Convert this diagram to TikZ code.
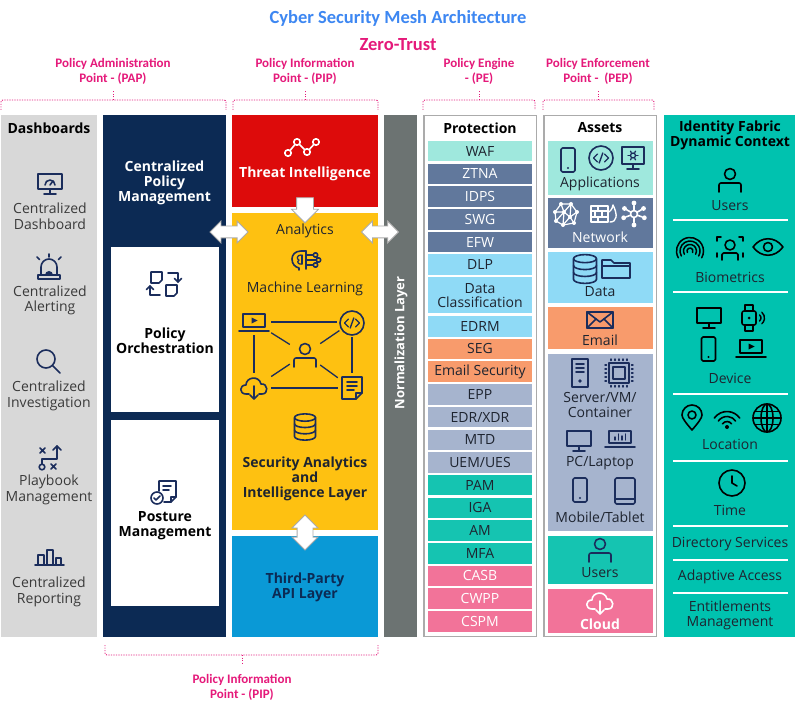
\documentclass[tikz,border=0pt]{standalone}
\usepackage{fontspec}
\setmainfont{Open Sans}
\newfontfamily\lblfont{Carlito}
\usetikzlibrary{shapes.arrows,calc}
\definecolor{navyc}{HTML}{0C2A54}
\definecolor{dashg}{HTML}{D8D8D8}
\definecolor{redc}{HTML}{DD0B0B}
\definecolor{yelc}{HTML}{FEC111}
\definecolor{bluec}{HTML}{0A99D6}
\definecolor{normg}{HTML}{6C7372}
\definecolor{bordg}{HTML}{ABABAB}
\definecolor{mintc}{HTML}{9FE8DD}
\definecolor{slatec}{HTML}{61789C}
\definecolor{lbluec}{HTML}{8FDAF6}
\definecolor{orangec}{HTML}{F89B6C}
\definecolor{lslatec}{HTML}{A6B4CE}
\definecolor{tealc}{HTML}{15C4B1}
\definecolor{pinkc}{HTML}{F27399}
\definecolor{idteal}{HTML}{00C2AF}
\definecolor{iconc}{HTML}{1B2D5C}
\definecolor{pinklbl}{HTML}{E5197A}
\definecolor{titleb}{HTML}{3D87F2}
\definecolor{txtc}{HTML}{1E2430}
\definecolor{dtxt}{HTML}{3A3A3A}
\tikzset{
  ic/.style={line width=1.6pt, line cap=round, line join=round},
  colbox/.style={inner sep=0pt, outer sep=0pt, draw=none},
  txt/.style={inner sep=0pt, align=center, font=\fontsize{14}{15.5}\selectfont, text=txtc},
  btxt/.style={inner sep=0pt, align=center, font=\fontsize{14}{15.2}\selectfont\bfseries, text=txtc},
  lbl/.style={inner sep=0pt, align=center, text=pinklbl, font=\lblfont\fontsize{13}{15}\selectfont\bfseries},
  brk/.style={draw=pinklbl, line width=0.9pt, dash pattern=on 1.2pt off 1.3pt},
  pitem/.style={inner sep=0pt, outer sep=0pt, minimum width=104pt, minimum height=20.5pt, font=\fontsize{14}{15}\selectfont, text=txtc},
  aitem/.style={inner sep=0pt, outer sep=0pt, minimum width=105pt},
  sepl/.style={draw=white, line width=2pt},
  blk/.style={draw=bordg, fill=white, line width=0.8pt},
  netl/.style={draw=iconc, line width=1.3pt},
  pics/dashmon/.style={code={
    \draw[ic] (-12,-10) rectangle (12,5);
    \draw[ic] (0,5) -- (0,10) (-6,10) -- (6,10);
    \draw[ic] (-5,1) arc[start angle=180,end angle=360,radius=5];
    \draw[ic] (0,1) -- (3,-3);
  }},
  pics/monitor/.style={code={
    \draw[ic] (-12,-10) rectangle (12,5);
    \draw[ic] (0,5) -- (0,10) (-6,10) -- (6,10);
  }},
  pics/gearmon/.style={code={
    \draw[ic] (-11,-10) rectangle (11,7);
    \draw[ic] (0,7) -- (0,12) (-6,12) -- (6,12);
    \draw[ic,line width=1.3pt] (0,-1.5) circle (2.5);
    \foreach \a in {0,60,...,300} \draw[ic,line width=1.3pt] ($(0,-1.5)+(\a:3.5)$) -- ($(0,-1.5)+(\a:5)$);
  }},
  pics/alarm/.style={code={
    \draw[ic] (-8,8) -- (-8,0) arc[start angle=180,end angle=360,radius=8] -- (8,8);
    \draw[ic] (-11,8) rectangle (11,12);
    \fill (-4,8) arc[start angle=180,end angle=360,radius=4] -- cycle;
    \draw[ic] (0,-13) -- (0,-10) (-12,-10) -- (-9.5,-7.5) (12,-10) -- (9.5,-7.5);
  }},
  pics/magnifier/.style={code={
    \draw[ic] (-3,-3) circle (9);
    \draw[ic] (3.5,3.5) -- (11,11);
  }},
  pics/playbook/.style={code={
    \draw[ic] (-7,10) circle (2.8);
    \draw[ic] (-7,7.2) -- (-7,2) -- (8,2) -- (8,-11);
    \draw[ic] (4,-7) -- (8,-11) -- (12,-7);
    \draw[ic,line width=1.5pt] (-9,-9) -- (-4,-4) (-9,-4) -- (-4,-9);
    \draw[ic,line width=1.5pt] (2,7) -- (7,12) (2,12) -- (7,7);
  }},
  pics/barchart/.style={code={
    \draw[ic] (-14,7) -- (15,7);
    \draw[ic] (-11,7) -- (-11,-3) -- (-5,-3) -- (-5,7);
    \draw[ic] (-2,7) -- (-2,-8) -- (4,-8) -- (4,7);
    \draw[ic] (7,7) -- (7,0) -- (12,0) -- (12,7);
  }},
  pics/icorch/.style={code={
    \draw[ic] (-13,-12) -- (-2,-12) -- (-2,-4) -- (-5,-1) -- (-13,-1) -- cycle;
    \draw[ic] (4,-11) -- (14,-11) -- (14,-2);
    \draw[ic] (10.5,-5.5) -- (14,-2) -- (17.5,-5.5);
    \draw[ic] (-4,11) -- (-14,11) -- (-14,2);
    \draw[ic] (-17.5,5.5) -- (-14,2) -- (-10.5,5.5);
    \draw[ic] (2,1) -- (13,1) -- (13,9) -- (10,12) -- (2,12) -- cycle;
  }},
  pics/icpost/.style={code={
    \draw[ic] (-4,-1) -- (-4,-11) -- (13,-11) -- (13,5) -- (8,10) -- (1,10);
    \draw[ic] (13,5) -- (8,5) -- (8,10);
    \draw[ic] (0,-6) -- (8,-6) (0,-2) -- (6,-2);
    \draw[ic] (-6,6) circle (6);
    \draw[ic] (-9,6) -- (-7,8) -- (-3,4);
  }},
  pics/icthreat/.style={code={
    \draw[ic,white] (-14,6) -- (-5,-5) -- (5,5) -- (14,-5);
    \foreach \x/\y in {-14/6,-5/-5,5/5,14/-5} \filldraw[ic,draw=white,fill=redc] (\x,\y) circle (3.2);
  }},
  pics/brain/.style={code={
    \draw[ic] (1,-9) -- (-4,-9) .. controls (-10,-9) and (-13,-5) .. (-13,-1) .. controls (-13,4) and (-10,7) .. (-6,8) -- (-6,10);
    \draw[ic] (1,-9) -- (1,9);
    \draw[ic,line width=1.3pt] (-4,-5) .. controls (-8,-5) and (-9,-1) .. (-6,0) .. controls (-9,2) and (-6,5) .. (-3,4);
    \draw[ic,line width=1.3pt] (-3,-5) -- (-3,4);
    \draw[ic] (1,-5) -- (8,-5) (1,0) -- (11,0) (1,5) -- (8,5);
    \draw[ic] (10.5,-5) circle (2.2) (13.5,0) circle (2.2) (10.5,5) circle (2.2);
  }},
  pics/laptop/.style={code={
    \draw[ic] (-11,-8) rectangle (11,5);
    \draw[ic] (-15,9) -- (15,9);
    \fill (-2.5,-4.5) -- (3.5,-1.5) -- (-2.5,1.5) -- cycle;
  }},
  pics/codec/.style={code={
    \draw[ic] (0,0) circle (12);
    \draw[ic,line width=1.4pt] (-3.5,-4) -- (-7.5,0) -- (-3.5,4) (3.5,-4) -- (7.5,0) -- (3.5,4) (1.8,-5) -- (-1.8,5);
  }},
  pics/user/.style={code={
    \draw[ic] (0,-6) circle (5.5);
    \draw[ic,rounded corners=2pt] (-11,12) -- (-11,3) -- (11,3) -- (11,12);
  }},
  pics/cloudd/.style={code={
    \draw[ic] (-5,6) -- (-8,6) .. controls (-15,6) and (-15,-3) .. (-8,-3) .. controls (-8,-11) and (5,-13) .. (7,-4) .. controls (14,-5) and (15,6) .. (8,6) -- (5,6);
    \draw[ic] (0,-2) -- (0,11) (-4,7) -- (0,11) -- (4,7);
  }},
  pics/doc/.style={code={
    \draw[ic] (-10,-11) -- (10,-11) -- (10,5) -- (4,11) -- (-10,11) -- cycle;
    \draw[ic] (10,5) -- (4,5) -- (4,11);
    \draw[ic] (-5,-6) -- (5,-6) (-5,-2) -- (5,-2) (-5,2) -- (2,2);
  }},
  pics/database/.style={code={
    \draw[ic] (0,-9) ellipse [x radius=10, y radius=3.5];
    \draw[ic] (-10,-9) -- (-10,9) arc[start angle=180,end angle=0,x radius=10,y radius=3.5] -- (10,-9);
    \draw[ic] (-10,-3) arc[start angle=180,end angle=0,x radius=10,y radius=3.5];
    \draw[ic] (-10,3) arc[start angle=180,end angle=0,x radius=10,y radius=3.5];
  }},
  pics/folder/.style={code={
    \draw[ic] (-14,9) -- (-14,-9) -- (-5,-9) -- (-2,-6) -- (14,-6) -- (14,9) -- cycle;
    \draw[ic] (-14,-3) -- (14,-3);
  }},
  pics/envelope/.style={code={
    \draw[ic] (-13,-8) rectangle (13,8);
    \draw[ic] (-13,-8) -- (0,2) -- (13,-8);
    \draw[ic] (-13,8) -- (-4,-1) (13,8) -- (4,-1);
  }},
  pics/server/.style={code={
    \draw[ic] (-8,-14) rectangle (8,14);
    \draw[ic] (-4,-9) -- (4,-9) (-4,-5) -- (4,-5) (-4,-1) -- (4,-1);
    \fill (0,8) circle (1.8);
  }},
  pics/chip/.style={code={
    \draw[ic] (-10,-10) rectangle (10,10);
    \draw[ic] (-6,-6) rectangle (6,6);
    \foreach \t in {-8,-4,0,4,8} {
      \draw[ic,line width=1.4pt] (\t,-14) -- (\t,-12.5) (\t,12.5) -- (\t,14) (-14,\t) -- (-12.5,\t) (12.5,\t) -- (14,\t);
    }
  }},
  pics/lapchart/.style={code={
    \draw[ic] (-11,-8) rectangle (11,4);
    \draw[ic] (-15,8) -- (15,8);
    \draw[ic,line width=1.4pt] (-5,1) -- (-5,-2) (-1.5,1) -- (-1.5,-5) (2,1) -- (2,-3) (5.5,1) -- (5.5,-5);
  }},
  pics/phone/.style={code={
    \draw[ic,rounded corners=1.5pt] (-7,-12) rectangle (7,12);
    \fill (0,8) circle (1.2);
  }},
  pics/tablet/.style={code={
    \draw[ic,rounded corners=1.5pt] (-10,-13) rectangle (10,13);
    \draw[ic] (-10,8) -- (10,8);
  }},
  pics/meshnet/.style={code={
    \draw[ic,line width=1.2pt] (-11,-2) -- (-5,-10) -- (5,-10) -- (11,-2) -- (8,9) -- (-3,11) -- (-10,7) -- cycle;
    \draw[ic,line width=1.2pt] (-11,-2) -- (-2,-2) -- (-5,-10) (-2,-2) -- (5,-10) (-2,-2) -- (4,3) -- (11,-2) (4,3) -- (8,9) (4,3) -- (-3,11) (-2,-2) -- (-10,7) (-2,-2) -- (-3,11) (5,-10) -- (4,3);
    \foreach \x/\y in {-11/-2,-5/-10,5/-10,11/-2,8/9,-3/11,-10/7,-2/-2,4/3} \fill (\x,\y) circle (2);
  }},
  pics/firewall/.style={code={
    \draw[ic,line width=1.4pt] (-13,-8) rectangle (4,8);
    \draw[ic,line width=1.4pt] (-13,-3) -- (4,-3) (-13,3) -- (4,3) (-6,-8) -- (-6,-3) (-9,-3) -- (-9,3) (-2,-3) -- (-2,3) (-6,3) -- (-6,8);
    \draw[ic,line width=1.4pt] (6,8) .. controls (13,8) and (14,1) .. (9,-9) .. controls (8,-4) and (6,-3) .. (5,-2);
  }},
  pics/hub/.style={code={
    \draw[ic] (0,0) circle (3.5);
    \foreach \a in {20,90,160,210,270,330} { \draw[ic] (\a:3.5) -- (\a:8.5); \fill (\a:11) circle (2.4); }
  }},
  pics/finger/.style={code={
    \foreach \r in {3,6.5,10,13.5} \draw[ic,line width=1.5pt] (0,2) ++(150:\r) arc[start angle=150,end angle=390,radius=\r];
  }},
  pics/facescan/.style={code={
    \draw[ic] (0,-3) circle (5);
    \draw[ic,rounded corners=1.5pt] (-8,12) -- (-8,5) -- (8,5) -- (8,12);
    \draw[ic] (-13,-7) -- (-13,-11) -- (-9,-11) (13,-7) -- (13,-11) -- (9,-11) (-13,5) -- (-13,9) (13,5) -- (13,9);
  }},
  pics/eye/.style={code={
    \draw[ic] (-15,0) .. controls (-7,-11) and (7,-11) .. (15,0) .. controls (7,11) and (-7,11) .. (-15,0) -- cycle;
    \draw[ic] (0,0) circle (4.5);
  }},
  pics/watch/.style={code={
    \draw[ic] (-4,-7) -- (-4,-13) -- (4,-13) -- (4,-7) (-4,7) -- (-4,13) -- (4,13) -- (4,7);
    \draw[ic,rounded corners=2pt] (-7,-7) rectangle (7,7);
    \fill (0,0) circle (1.5);
    \draw[ic,line width=1.4pt] (8,0) ++(-50:4) arc[start angle=-50,end angle=50,radius=4];
    \draw[ic,line width=1.4pt] (8,0) ++(-50:7.5) arc[start angle=-50,end angle=50,radius=7.5];
  }},
  pics/pin/.style={code={
    \draw[ic] (0,12) .. controls (-6,5) and (-10,0) .. (-10,-3) arc[start angle=180,end angle=360,radius=10] .. controls (10,0) and (6,5) .. (0,12) -- cycle;
    \draw[ic] (0,-3) circle (4);
  }},
  pics/wifi/.style={code={
    \foreach \r in {5.5,10.5,15.5} \draw[ic] (0,8) ++(215:\r) arc[start angle=215,end angle=325,radius=\r];
    \fill (0,8) circle (2);
  }},
  pics/globe/.style={code={
    \draw[ic] (0,0) circle (14);
    \draw[ic] (0,0) ellipse [x radius=6, y radius=14];
    \draw[ic] (0,-14) -- (0,14) (-14,0) -- (14,0) (-12.4,-6.5) -- (12.4,-6.5) (-12.4,6.5) -- (12.4,6.5);
  }},
  pics/clock/.style={code={
    \draw[ic] (0,0) circle (13);
    \draw[ic] (0,-7) -- (0,0) -- (5,3);
  }},
}
\newcommand\topbrk[3]{%
  \draw[brk, rounded corners=2pt] (#1,110) -- (#1,100) -- (#2,100) -- (#2,110);
  \draw[brk] (#3,100) -- (#3,91);}
\begin{document}
\begin{tikzpicture}[x=1pt,y=-1pt]
\useasboundingbox (0,0) rectangle (795,711);
\fill[white] (0,0) rectangle (795,711);

% titles
\node[inner sep=0pt, font=\lblfont\fontsize{18.5}{20}\selectfont\bfseries, text=titleb] (title) at (398,18) {Cyber Security Mesh Architecture};
\node[inner sep=0pt, font=\lblfont\fontsize{18.5}{20}\selectfont\bfseries, text=pinklbl] (zt) at (398,45) {Zero-Trust};

% labels and brackets
\node[lbl] (pap) at (113,71.5) {Policy Administration\\Point - (PAP)};
\node[lbl] (pip) at (305,71.5) {Policy Information\\Point - (PIP)};
\node[lbl] (pe) at (479,71.5) {Policy Engine\\- (PE)};
\node[lbl] (pep) at (598,71.5) {Policy Enforcement\\Point -~ (PEP)};
\topbrk{1}{226}{113}
\topbrk{233}{378}{305}
\topbrk{423}{535}{479}
\topbrk{543}{654}{598}
\draw[brk, rounded corners=2pt] (105,645) -- (105,655) -- (378,655) -- (378,645);
\draw[brk] (242,655) -- (242,664);
\node[lbl] (pipb) at (242,687) {Policy Information\\Point - (PIP)};

% columns
\node[colbox, fill=dashg, minimum width=96pt, minimum height=522pt] (dash) at (49,376) {};
\node[colbox, fill=navyc, minimum width=123pt, minimum height=522pt] (navy) at (164.5,376) {};
\node[colbox, fill=white, minimum width=108pt, minimum height=165pt] (orch) at (165,329.5) {};
\node[colbox, fill=white, minimum width=108pt, minimum height=186pt] (post) at (165,513) {};
\node[colbox, fill=redc, minimum width=146pt, minimum height=92pt] (threat) at (305,161) {};
\node[colbox, fill=yelc, minimum width=146pt, minimum height=317pt] (sail) at (305,371.5) {};
\node[colbox, fill=bluec, minimum width=146pt, minimum height=101pt] (api) at (305,586.5) {};
\node[colbox, fill=normg, minimum width=33pt, minimum height=522pt] (norm) at (400.5,376) {};
\node[colbox, fill=white, draw=bordg, line width=1.5pt, minimum width=112.5pt, minimum height=520.5pt] (prot) at (480,376) {};
\node[colbox, fill=white, draw=bordg, line width=1.5pt, minimum width=112.5pt, minimum height=520.5pt] (assets) at (600,376) {};
\node[colbox, fill=idteal, minimum width=131pt, minimum height=522pt] (ident) at (729.5,376) {};

% dashboards column
\node[btxt, text=black] (hdash) at (49,128) {Dashboards};
\pic[color=iconc] at (50,184) {dashmon};
\node[txt, text=dtxt] (cd) at (50,216.5) {Centralized\\Dashboard};
\pic[color=iconc] at (49,267) {alarm};
\node[txt, text=dtxt] (ca) at (50,300.5) {Centralized\\Alerting};
\pic[color=iconc] at (49,362) {magnifier};
\node[txt, text=dtxt] (ci) at (49,396) {Centralized\\Investigation};
\pic[color=iconc] at (49,457) {playbook};
\node[txt, text=dtxt] (pb) at (49,490) {Playbook\\Management};
\pic[color=iconc] at (49,558) {barchart};
\node[txt, text=dtxt] (cr) at (49,592) {Centralized\\Reporting};

% navy column
\node[btxt, text=white] (cpm) at (164.5,183) {Centralized\\Policy\\Management};
\pic[color=iconc] at (164,284) {icorch};
\node[btxt, text=black] (po) at (165,340.5) {Policy\\Orchestration};
\pic[color=iconc] at (163,492) {icpost};
\node[btxt, text=black] (pm) at (165,525.5) {Posture\\Management};

% threat / analytics / api
\pic at (302,147) {icthreat};
\node[btxt, text=white] (ti) at (305,174) {Threat Intelligence};
\node[txt] (an) at (305,231) {Analytics};
\pic[color=iconc] at (305,260) {brain};
\node[txt] (ml) at (305,289) {Machine Learning};
\node[minimum width=34pt, minimum height=26pt, inner sep=0pt] (nlap) at (254,322) {};
\node[circle, minimum size=30pt, inner sep=0pt] (ncode) at (352,322) {};
\node[minimum width=30pt, minimum height=30pt, inner sep=0pt] (nper) at (305,354) {};
\node[minimum width=34pt, minimum height=30pt, inner sep=0pt] (ncld) at (254,388) {};
\node[minimum width=28pt, minimum height=30pt, inner sep=0pt] (ndoc) at (352,388) {};
\draw[netl] (nlap) -- (ncode);
\draw[netl] (nlap) -- (ncld);
\draw[netl] (ncode) -- (ndoc);
\draw[netl] (ncld) -- (ndoc);
\draw[netl] (nper) -- (nlap);
\draw[netl] (nper) -- (ncode);
\draw[netl] (nper) -- (ncld);
\draw[netl] (nper) -- (ndoc);
\pic[color=iconc] at (254,322) {laptop};
\pic[color=iconc] at (352,323) {codec};
\pic[color=iconc] at (305,355) {user};
\pic[color=iconc] at (254,388) {cloudd};
\pic[color=iconc] at (352,388) {doc};
\pic[color=iconc, scale=1.05] at (305,427) {database};
\node[btxt] (sa) at (305,479) {Security Analytics\\and\\Intelligence Layer};
\node[btxt, text=navyc] (tp) at (305,587.5) {Third-Party\\API Layer};

% block arrows
\node[blk, single arrow, single arrow head extend=5pt, inner ysep=8pt, inner xsep=0pt, minimum height=25pt, rotate=-90] (darr) at (305,206) {};
\node[blk, double arrow, double arrow head extend=5pt, inner ysep=5.5pt, inner xsep=0pt, minimum height=38pt] (al) at (229,232) {};
\node[blk, double arrow, double arrow head extend=5pt, inner ysep=5.5pt, inner xsep=0pt, minimum height=37pt] (ar) at (380,232) {};
\node[blk, double arrow, double arrow head extend=5pt, inner ysep=7.5pt, inner xsep=0pt, minimum height=35pt, rotate=90] (av) at (305,532.5) {};

% normalization layer
\node[inner sep=0pt, rotate=90, text=white, font=\fontsize{13}{14}\selectfont\bfseries] (nl) at (401,343) {Normalization Layer};

% protection column
\node[btxt, text=black] (hprot) at (480,128) {Protection};
\node[pitem, fill=mintc] (waf) at (480,151.25) {WAF};
\node[pitem, fill=slatec, text=white] (ztna) at (480,173.95) {ZTNA};
\node[pitem, fill=slatec, text=white] (idps) at (480,196.65) {IDPS};
\node[pitem, fill=slatec, text=white] (swg) at (480,219.35) {SWG};
\node[pitem, fill=slatec, text=white] (efw) at (480,242.05) {EFW};
\node[pitem, fill=lbluec] (dlp) at (480,264.75) {DLP};
\node[pitem, fill=lbluec, minimum height=36pt, align=center, font=\fontsize{14}{14.5}\selectfont] (dcl) at (480,295.5) {Data\\Classification};
\node[pitem, fill=lbluec] (edrm) at (480,326.25) {EDRM};
\node[pitem, fill=orangec] (seg) at (480,348.95) {SEG};
\node[pitem, fill=orangec] (emsec) at (480,371.65) {Email Security};
\node[pitem, fill=lslatec] (epp) at (480,394.35) {EPP};
\node[pitem, fill=lslatec] (edr) at (480,417.05) {EDR/XDR};
\node[pitem, fill=lslatec] (mtd) at (480,439.75) {MTD};
\node[pitem, fill=lslatec] (uem) at (480,462.45) {UEM/UES};
\node[pitem, fill=tealc] (pam) at (480,485.15) {PAM};
\node[pitem, fill=tealc] (iga) at (480,507.85) {IGA};
\node[pitem, fill=tealc] (am) at (480,530.55) {AM};
\node[pitem, fill=tealc] (mfa) at (480,553.25) {MFA};
\node[pitem, fill=pinkc, text=white] (casb) at (480,575.95) {CASB};
\node[pitem, fill=pinkc, text=white] (cwpp) at (480,598.65) {CWPP};
\node[pitem, fill=pinkc, text=white] (cspm) at (480,621.35) {CSPM};

% assets column
\node[btxt, text=black] (hass) at (600,128) {Assets};
\node[aitem, fill=mintc, minimum height=54pt] (apps) at (600.5,168) {};
\node[aitem, fill=slatec, minimum height=50pt] (netw) at (600.5,223) {};
\node[aitem, fill=lbluec, minimum height=51pt] (data) at (600.5,277.5) {};
\node[aitem, fill=orangec, minimum height=42pt] (email) at (600.5,328) {};
\node[aitem, fill=lslatec, minimum height=177pt] (devs) at (600.5,442.5) {};
\node[aitem, fill=tealc, minimum height=48pt] (ausers) at (600.5,560) {};
\node[aitem, fill=pinkc, minimum height=44pt] (cloud) at (600.5,611) {};
\pic[color=iconc] at (568,160) {phone};
\pic[color=iconc] at (601,158) {codec};
\pic[color=iconc] at (633,157) {gearmon};
\node[txt] (tapps) at (600,184) {Applications};
\pic[color=white] at (566,214) {meshnet};
\pic[color=white] at (604,214) {firewall};
\pic[color=white] at (634,214) {hub};
\node[txt, text=white] (tnet) at (600,237) {Network};
\pic[color=iconc, scale=1.15] at (585,269) {database};
\pic[color=iconc] at (616,269) {folder};
\node[txt] (tdata) at (600,292) {Data};
\pic[color=iconc] at (600,320) {envelope};
\node[txt] (temail) at (600,340) {Email};
\pic[color=iconc] at (580,373) {server};
\pic[color=iconc] at (619,373) {chip};
\node[txt] (tserv) at (600,405) {Server/VM/\\Container};
\pic[color=iconc] at (579,441) {monitor};
\pic[color=iconc] at (620,439) {lapchart};
\node[txt] (tpc) at (600,463) {PC/Laptop};
\pic[color=iconc] at (580,490) {phone};
\pic[color=iconc] at (625,491) {tablet};
\node[txt] (tmob) at (600,517) {Mobile/Tablet};
\pic[color=iconc] at (600,550) {user};
\node[txt] (tusr) at (600,573) {Users};
\pic[color=white] at (600,603) {cloudd};
\node[btxt, text=white] (tcld) at (600,624) {Cloud};

% identity column
\node[btxt, text=black] (hid) at (730,135.5) {Identity Fabric\\Dynamic Context};
\pic[color=black] at (730,180) {user};
\node[txt] (iusr) at (730,206) {Users};
\draw[sepl] (673,220) -- (788,220);
\pic[color=black] at (690,249) {finger};
\pic[color=black] at (730,248) {facescan};
\pic[color=black] at (768,247) {eye};
\node[txt] (ibio) at (730,277) {Biometrics};
\draw[sepl] (673,292) -- (788,292);
\pic[color=black] at (709,318) {monitor};
\pic[color=black] at (749,318) {watch};
\pic[color=black] at (708.5,349) {phone};
\pic[color=black] at (751,348) {laptop};
\node[txt] (idev) at (730,378) {Device};
\draw[sepl] (673,394) -- (788,394);
\pic[color=black] at (692,418) {pin};
\pic[color=black] at (727,419) {wifi};
\pic[color=black] at (767,418) {globe};
\node[txt] (iloc) at (730,444) {Location};
\draw[sepl] (673,461) -- (788,461);
\pic[color=black] at (732,483) {clock};
\node[txt] (itime) at (730,510) {Time};
\draw[sepl] (673,526) -- (788,526);
\node[txt] (idir) at (730,544) {Directory Services};
\draw[sepl] (673,560) -- (788,560);
\node[txt] (iada) at (730,577) {Adaptive Access};
\draw[sepl] (673,593) -- (788,593);
\node[txt] (ient) at (730,615.5) {Entitlements\\Management};
\end{tikzpicture}
\end{document}
